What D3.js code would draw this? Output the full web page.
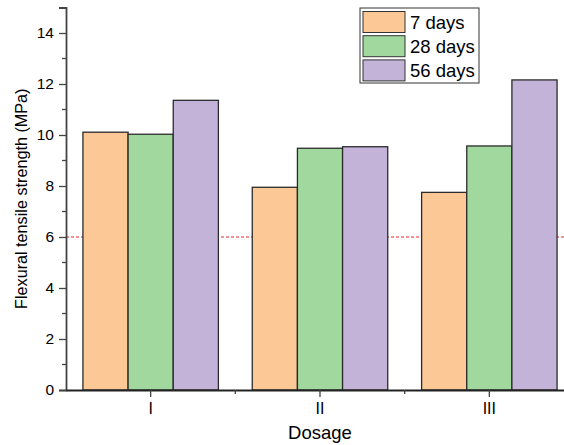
<!DOCTYPE html>
<html>
<head>
<meta charset="utf-8">
<script src="https://cdn.jsdelivr.net/npm/d3@7"></script>
<style>
  html, body { margin: 0; padding: 0; background: #fff; }
  svg { display: block; font-family: "Liberation Sans", Arial, sans-serif; }
</style>
</head>
<body>
<svg id="chart" width="564" height="445"></svg>
<script>
// Flexural tensile strength by dosage and curing age
const categories = ["I", "II", "III"];
const seriesNames = ["7 days", "28 days", "56 days"];
const values7 = [10.11, 7.95, 7.75];
const values28 = [10.03, 9.48, 9.57];
const values56 = [11.36, 9.54, 12.16];
const yTicks = [0, 2, 4, 6, 8, 10, 12, 14];
const yMinorTicks = [1, 3, 5, 7, 9, 11, 13];
const referenceLevel = 6;
const colors = ["#FBC896", "#A0D89E", "#C3B3D8"];

const seriesValues = [values7, values28, values56];

const svg = d3.select("#chart");
const plotLeft = 66, plotRight = 574, plotTop = 7.5, plotBottom = 390;
const fontFamily = "Liberation Sans, Arial, sans-serif";

const x = d3.scaleBand().domain(categories).range([plotLeft, plotRight]).paddingInner(0).paddingOuter(0);
const xInner = d3.scaleBand().domain(seriesNames).range([0, x.bandwidth() * 0.8]);
const y = d3.scaleLinear().domain([0, 15]).range([plotBottom, plotTop]);

// Reference line at 6 MPa, drawn beneath the bars
svg.append("line")
  .attr("x1", plotLeft).attr("x2", 564)
  .attr("y1", y(referenceLevel)).attr("y2", y(referenceLevel))
  .attr("stroke", "#E8242A").attr("stroke-width", 1.2)
  .attr("stroke-dasharray", "3,2");

// Bars
const groupOffset = x.bandwidth() * 0.1;
seriesNames.forEach((name, si) => {
  svg.append("g").selectAll("rect")
    .data(categories.map((c, ci) => ({ c, v: seriesValues[si][ci] })))
    .join("rect")
    .attr("x", d => x(d.c) + groupOffset + xInner(name))
    .attr("width", xInner.bandwidth())
    .attr("y", d => y(d.v))
    .attr("height", d => y(0) - y(d.v))
    .attr("fill", colors[si])
    .attr("stroke", "#2b2b2b")
    .attr("stroke-width", 1.3);
});

// Y axis
const yAxis = svg.append("g").attr("transform", `translate(${plotLeft},0)`)
  .call(d3.axisLeft(y).tickValues(yTicks).tickSize(7).tickPadding(5).tickFormat(d3.format("d")));
yAxis.select(".domain").attr("stroke", "#444").attr("stroke-width", 1.8);
yAxis.selectAll(".tick line").attr("stroke", "#444").attr("stroke-width", 1.3);
yAxis.selectAll(".tick text").attr("font-size", 15.5).attr("fill", "#000")
  .attr("font-family", fontFamily);
svg.append("g").selectAll("line").data(yMinorTicks).join("line")
  .attr("x1", plotLeft - 4).attr("x2", plotLeft)
  .attr("y1", d => y(d)).attr("y2", d => y(d))
  .attr("stroke", "#444").attr("stroke-width", 1.3);

// X axis
const xAxis = svg.append("g").attr("transform", `translate(0,${plotBottom})`)
  .call(d3.axisBottom(x).tickSize(7).tickPadding(6).tickSizeOuter(0));
xAxis.select(".domain").attr("stroke", "#222").attr("stroke-width", 1.8);
xAxis.selectAll(".tick line").attr("stroke", "#444").attr("stroke-width", 1.3);
xAxis.selectAll(".tick text").attr("font-size", 16).attr("fill", "#000")
  .attr("font-family", fontFamily);
svg.append("g").selectAll("line").data(categories.slice(1)).join("line")
  .attr("x1", d => x(d)).attr("x2", d => x(d))
  .attr("y1", plotBottom).attr("y2", plotBottom + 4)
  .attr("stroke", "#444").attr("stroke-width", 1.3);

// Axis titles
svg.append("text")
  .attr("x", x("II") + x.bandwidth() / 2).attr("y", 439)
  .attr("text-anchor", "middle").attr("font-size", 18.5).attr("fill", "#000")
  .text("Dosage");
svg.append("text")
  .attr("transform", `translate(27,${(plotTop + plotBottom) / 2}) rotate(-90)`)
  .attr("text-anchor", "middle").attr("font-size", 16.2).attr("fill", "#000")
  .text("Flexural tensile strength (MPa)");

// Legend
const legend = svg.append("g");
legend.append("rect")
  .attr("x", 360).attr("y", 8).attr("width", 119).attr("height", 75)
  .attr("fill", "#fff").attr("stroke", "#333").attr("stroke-width", 1);
seriesNames.forEach((name, i) => {
  const ry = 11.5 + i * 24.2;
  legend.append("rect")
    .attr("x", 363).attr("y", ry).attr("width", 42).attr("height", 21)
    .attr("fill", colors[i]).attr("stroke", "#333").attr("stroke-width", 1);
  legend.append("text")
    .attr("x", 410).attr("y", ry + 17.5)
    .attr("font-size", 18.5).attr("fill", "#000")
    .text(name);
});
</script>
</body>
</html>
